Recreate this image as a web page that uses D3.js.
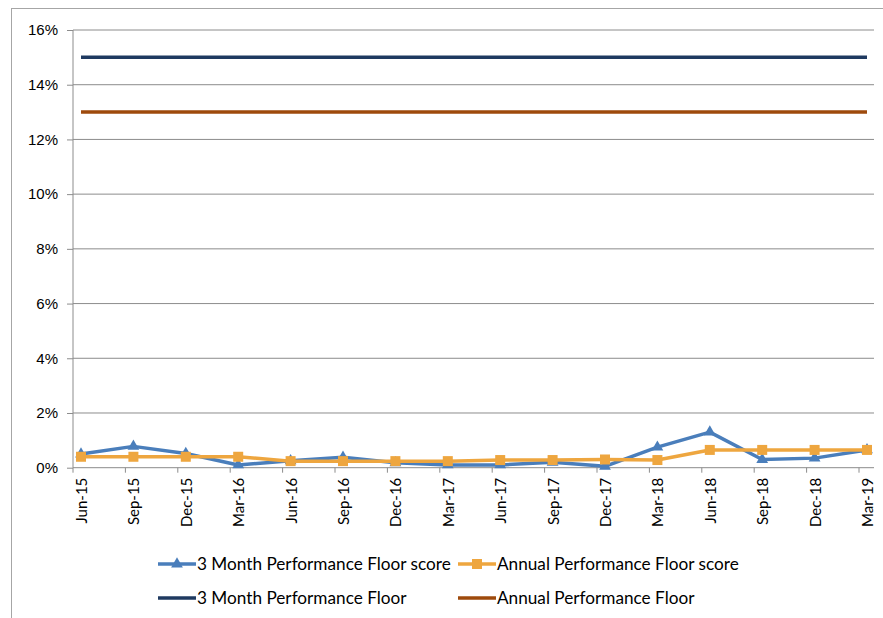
<!DOCTYPE html>
<html><head><meta charset="utf-8">
<script src="https://cdn.jsdelivr.net/npm/d3@7/dist/d3.min.js"></script>
<style>body{margin:0;background:#fff}svg{display:block}</style>
</head><body>
<svg id="chart" width="883" height="618"></svg>
<script>
const categories = ["Jun-15","Sep-15","Dec-15","Mar-16","Jun-16","Sep-16","Dec-16","Mar-17","Jun-17","Sep-17","Dec-17","Mar-18","Jun-18","Sep-18","Dec-18","Mar-19"];
const threeMonthScore = [0.50,0.78,0.52,0.10,0.25,0.38,0.18,0.10,0.10,0.20,0.05,0.75,1.30,0.30,0.35,0.65];
const annualScore = [0.40,0.40,0.40,0.40,0.24,0.24,0.24,0.24,0.28,0.28,0.30,0.28,0.65,0.65,0.65,0.65];
const threeMonthFloor = [15,15,15,15,15,15,15,15,15,15,15,15,15,15,15,15];
const annualFloor = [13,13,13,13,13,13,13,13,13,13,13,13,13,13,13,13];
const yTicks = [0,2,4,6,8,10,12,14,16];
const seriesNames = ["3 Month Performance Floor score","Annual Performance Floor score","3 Month Performance Floor","Annual Performance Floor"];

const C = {blue:"#4a7ebb", orange:"#eea63f", navy:"#1f3a60", brown:"#9e4a0c", grid:"#8c8c8c"};
const svg = d3.select("#chart");
const pLeft = 73, pRight = 874, pTop = 30, pBottom = 467.7;

// outer border
svg.append("rect").attr("x",11.5).attr("y",8.5).attr("width",900).attr("height",700)
  .attr("fill","none").attr("stroke","#a6a6a6").attr("stroke-width",1);

const x = d3.scalePoint().domain(categories).range([81, 867]);
const y = d3.scaleLinear().domain([0,16]).range([pBottom, pTop]);

// gridlines
svg.append("g").selectAll("line").data(yTicks.filter(d=>d>0)).join("line")
  .attr("x1",pLeft).attr("x2",pRight).attr("y1",d=>y(d)).attr("y2",d=>y(d))
  .attr("stroke",C.grid).attr("stroke-width",1);

// y axis
const yAxis = d3.axisLeft(y).tickValues(yTicks).tickFormat(d=>d+"%").tickSize(6).tickPadding(9);
const gy = svg.append("g").attr("transform",`translate(${pLeft},0)`).call(yAxis);
gy.select(".domain").remove();
gy.append("line").attr("x1",0).attr("x2",0).attr("y1",pTop).attr("y2",pBottom).attr("stroke",C.grid);
gy.selectAll(".tick line").attr("stroke",C.grid);
gy.selectAll(".tick text").attr("font-family","Liberation Sans, Arial, sans-serif").attr("font-size",15).attr("fill","#000");

// x axis
svg.append("line").attr("x1",pLeft).attr("x2",pRight).attr("y1",pBottom).attr("y2",pBottom).attr("stroke",C.grid);
svg.append("g").selectAll("line").data(categories).join("line")
  .attr("x1",d=>x(d)-8).attr("x2",d=>x(d)-8).attr("y1",pBottom).attr("y2",pBottom+5)
  .attr("stroke",C.grid);
svg.append("g").selectAll("text").data(categories).join("text")
  .attr("transform",d=>`translate(${x(d)+6},${pBottom+10}) rotate(-90)`)
  .attr("text-anchor","end")
  .attr("font-family","Lato, sans-serif").attr("font-size",15).attr("fill","#000")
  .text(d=>d);

// series
const line = vals => d3.line().x((d,i)=>x(categories[i])).y(d=>y(d))(vals);
svg.append("path").attr("d",line(threeMonthFloor)).attr("fill","none").attr("stroke",C.navy).attr("stroke-width",3.5);
svg.append("path").attr("d",line(annualFloor)).attr("fill","none").attr("stroke",C.brown).attr("stroke-width",3.5);

svg.append("path").attr("d",line(threeMonthScore)).attr("fill","none").attr("stroke",C.blue).attr("stroke-width",3.5).attr("stroke-linejoin","round");
svg.append("g").selectAll("path").data(threeMonthScore).join("path")
  .attr("transform",(d,i)=>`translate(${x(categories[i])},${y(d)})`)
  .attr("d",d3.symbol(d3.symbolTriangle,60)).attr("fill",C.blue);

svg.append("path").attr("d",line(annualScore)).attr("fill","none").attr("stroke",C.orange).attr("stroke-width",3.5).attr("stroke-linejoin","round");
svg.append("g").selectAll("rect").data(annualScore).join("rect")
  .attr("x",(d,i)=>x(categories[i])-5).attr("y",d=>y(d)-5).attr("width",10).attr("height",10)
  .attr("fill",C.orange);

// legend
const legend = [
  {name:seriesNames[0], color:C.blue, marker:"tri", x:158, y:564},
  {name:seriesNames[1], color:C.orange, marker:"sq", x:458, y:564},
  {name:seriesNames[2], color:C.navy, marker:null, x:158, y:598},
  {name:seriesNames[3], color:C.brown, marker:null, x:458, y:598}
];
const lg = svg.append("g").selectAll("g").data(legend).join("g").attr("transform",d=>`translate(${d.x},${d.y})`);
lg.append("line").attr("x1",0).attr("x2",38).attr("y1",0).attr("y2",0).attr("stroke",d=>d.color).attr("stroke-width",3.5);
lg.filter(d=>d.marker==="tri").append("path").attr("transform","translate(19,0)").attr("d",d3.symbol(d3.symbolTriangle,60)).attr("fill",d=>d.color);
lg.filter(d=>d.marker==="sq").append("rect").attr("x",14).attr("y",-5).attr("width",10).attr("height",10).attr("fill",d=>d.color);
lg.append("text").attr("x",39).attr("y",0).attr("dy","0.35em")
  .attr("font-family","Lato, sans-serif").attr("font-size",17.2).attr("fill","#000").text(d=>d.name);
</script>
</body></html>
